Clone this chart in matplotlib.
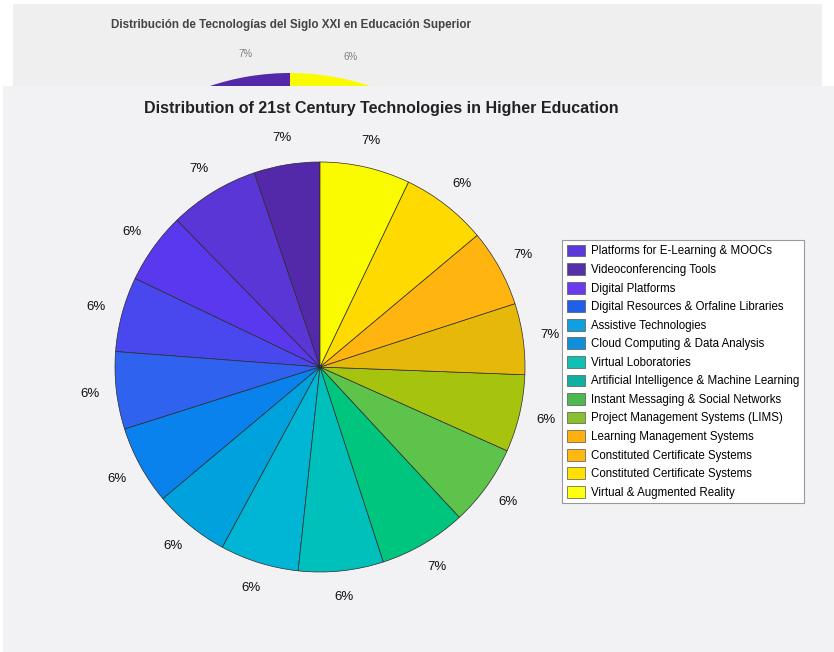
import matplotlib.pyplot as plt
from matplotlib.patches import Patch

plt.rcParams['font.family'] = ['Liberation Sans', 'DejaVu Sans']

# slice shares, counterclockwise from the top
shares = [5.2, 7.1, 5.6, 5.9, 6.1, 6.2, 6.0, 6.2, 6.7, 6.9, 6.4, 6.1, 5.6, 6.1, 6.8, 7.1]
pct_labels = ['7%', '7%', '6%', '6%', '6%', '6%', '6%', '6%', '6%', '7%', '6%', '6%', '7%', '7%', '6%', '7%']
old_labels = ['7%', '7%', '6%', '6%', '6%', '6%', '6%', '6%', '6%', '7%', '6%', '6%', '7%', '6%', '6%', '6%']
slice_colors = ['#5429a9', '#5a36d6', '#5a38ee', '#4848ee', '#2f62ef', '#0a82ee',
                '#00a2de', '#00b6d4', '#00c0bc', '#00c57e', '#5ec34a', '#a6c40e',
                '#e6b80a', '#ffb40f', '#ffda00', '#fbfb00']

legend_labels = [
    'Platforms for E-Learning & MOOCs',
    'Videoconferencing Tools',
    'Digital Platforms',
    'Digital Resources & Orfaline Libraries',
    'Assistive Technologies',
    'Cloud Computing & Data Analysis',
    'Virtual Loboratories',
    'Artificial Intelligence & Machine Learning',
    'Instant Messaging & Social Networks',
    'Project Management Systems (LIMS)',
    'Learning Management Systems',
    'Constituted Certificate Systems',
    'Constituted Certificate Systems',
    'Virtual & Augmented Reality',
]
legend_colors = ['#5a3ad8', '#5530a8', '#6a3aee', '#2060e8', '#10a0e0', '#1090d8',
                 '#10c0b0', '#10b0a0', '#50b850', '#88c030', '#ffb010', '#ffb810',
                 '#ffe000', '#ffff10']

W, H = 834, 652


def px_axes(fig, x0, y0, x1, y1):
    # axes from pixel box (top-left origin)
    return fig.add_axes([x0 / W, 1 - y1 / H, (x1 - x0) / W, (y1 - y0) / H])


fig = plt.figure(figsize=(8.34, 6.52), dpi=100, facecolor='white')

# faded chart strip behind
strip_bottom = 86
ax_strip = px_axes(fig, 13, 4, 822, strip_bottom)
ax_strip.set_facecolor('#efefef')
ax_strip.set_xticks([])
ax_strip.set_yticks([])
for s in ax_strip.spines.values():
    s.set_visible(False)
fig.text(291 / W, 1 - 25 / H, 'Distribución de Tecnologías del Siglo XXI en Educación Superior',
         ha='center', va='center', fontsize=8.4, fontweight='bold', color='#444444')

r_old = 253
ax_old = px_axes(fig, 290 - 1.2 * r_old, 326 - 1.2 * r_old, 290 + 1.2 * r_old, 326 + 1.2 * r_old)
ax_old.pie(shares, colors=slice_colors, startangle=90, labels=old_labels, labeldistance=1.09,
           wedgeprops=dict(edgecolor='none'), textprops=dict(fontsize=7, color='#808080'))
ax_old.set_xlim(-1.2, 1.2)
ax_old.set_ylim(-1.2, 1.2)
ax_old.set_axis_off()
for t in ax_old.texts:
    t.set_ha('center')
    t.set_va('center')
    # labels covered by the front panel are not shown
    y_px = H - ax_old.transData.transform(t.get_position())[1]
    if y_px > strip_bottom - 4:
        t.set_visible(False)

# front panel
ax_panel = px_axes(fig, 3, strip_bottom, 834, 652)
ax_panel.set_facecolor('#f2f1f3')
ax_panel.set_xticks([])
ax_panel.set_yticks([])
for s in ax_panel.spines.values():
    s.set_visible(False)

fig.text(381 / W, 1 - 109 / H, 'Distribution of 21st Century Technologies in Higher Education',
         ha='center', va='center', fontsize=11.5, fontweight='bold', color='#222222')

r = 205
cx, cy = 320, 367
ax = px_axes(fig, cx - 1.3 * r, cy - 1.3 * r, cx + 1.3 * r, cy + 1.3 * r)
wedges, texts = ax.pie(shares, colors=slice_colors, startangle=90, labels=pct_labels,
                       labeldistance=1.13,
                       wedgeprops=dict(edgecolor='#2a2a2a', linewidth=0.5),
                       textprops=dict(fontsize=9.5, color='#111111'))
for t in texts:
    t.set_ha('center')
    t.set_va('center')
ax.set_xlim(-1.3, 1.3)
ax.set_ylim(-1.3, 1.3)
ax.set_axis_off()

handles = [Patch(facecolor=c, edgecolor='#555555', linewidth=0.5) for c in legend_colors]
leg = fig.legend(handles, legend_labels, loc='upper left',
                 bbox_to_anchor=(562 / W, 1 - 240 / H), fontsize=8.3,
                 frameon=True, fancybox=False, edgecolor='#999999', framealpha=1,
                 handlelength=1.6, handleheight=1.2, handletextpad=0.5,
                 labelspacing=0.5, borderpad=0.4, borderaxespad=0)
leg.get_frame().set_linewidth(0.8)

fig.savefig('out.png', dpi=100, facecolor='white')
